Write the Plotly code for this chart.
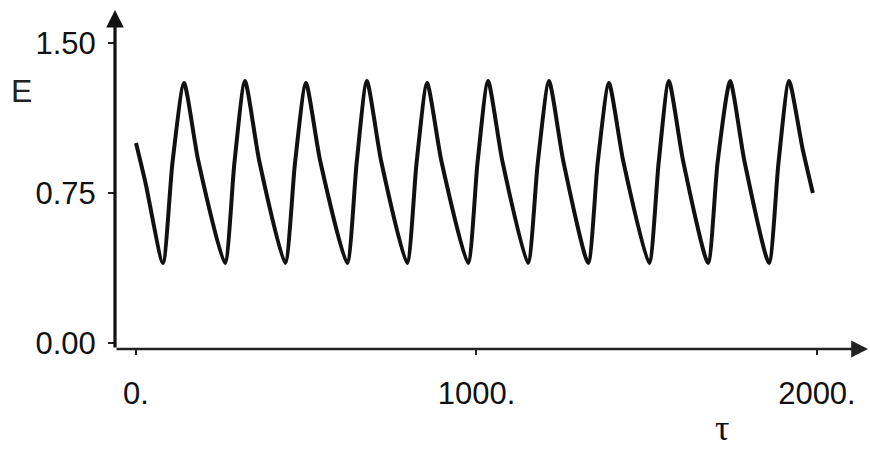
import plotly.graph_objects as go

# ---- data ----
tau = [0, 28, 79,
       107, 141, 183, 261,
       289, 320, 362, 438,
       467, 499, 541, 620,
       648, 678, 720, 796,
       824, 855, 897, 975,
       1003, 1034, 1076, 1151,
       1180, 1213, 1255, 1328,
       1356, 1389, 1431, 1507,
       1535, 1565, 1607, 1680,
       1708, 1745, 1787, 1859,
       1887, 1918, 1958, 1988]
energy = [1.00, 0.80, 0.40,
          0.90, 1.30, 0.91, 0.40,
          0.90, 1.31, 0.91, 0.40,
          0.90, 1.30, 0.91, 0.40,
          0.90, 1.31, 0.91, 0.40,
          0.90, 1.30, 0.91, 0.40,
          0.90, 1.31, 0.91, 0.40,
          0.90, 1.31, 0.91, 0.40,
          0.90, 1.30, 0.91, 0.40,
          0.90, 1.31, 0.91, 0.40,
          0.90, 1.31, 0.91, 0.40,
          0.90, 1.31, 0.97, 0.75]

x_tickvals = [0, 1000, 2000]
x_ticktext = ["0.", "1000.", "2000."]
y_tickvals = [0.0, 0.75, 1.5]
y_ticktext = ["0.00", "0.75", "1.50"]

W, H = 870, 450
L, R, T, B = 115, 2, 10, 101
PW, PH = W - L - R, H - T - B

fig = go.Figure()
fig.add_trace(go.Scatter(
    x=tau, y=energy, mode="lines",
    line=dict(color="#111111", width=4, shape="spline", smoothing=0.6),
    showlegend=False, hoverinfo="skip"))

tickfont = dict(family="Liberation Sans, Arial, sans-serif", size=31, color="#111111")

fig.update_layout(
    width=W, height=H,
    margin=dict(l=L, r=R, t=T, b=B, autoexpand=False),
    paper_bgcolor="white", plot_bgcolor="white",
    xaxis=dict(range=[-61.7, 2150], showgrid=False, zeroline=False, showline=False,
               tickvals=x_tickvals, ticktext=x_ticktext, ticks="outside",
               ticklen=5, tickwidth=2, tickcolor="#222222",
               tickfont=tickfont, ticklabelstandoff=12),
    yaxis=dict(range=[-0.03, 1.665], showgrid=False, zeroline=False, showline=False,
               tickvals=y_tickvals, ticktext=y_ticktext, ticks="outside",
               ticklen=6, tickwidth=2, tickcolor="#222222",
               tickfont=tickfont, ticklabelstandoff=6),
)

# axis lines with arrowheads
fig.add_annotation(xref="paper", yref="paper", x=0, y=1, ax=0, ay=PH,
                   axref="pixel", ayref="pixel", showarrow=True, text="",
                   arrowhead=2, arrowsize=1.1, arrowwidth=3.2, arrowcolor="#111111")
fig.add_annotation(xref="paper", yref="paper", x=1, y=0, ax=-PW, ay=0,
                   axref="pixel", ayref="pixel", showarrow=True, text="",
                   arrowhead=2, arrowsize=1.4, arrowwidth=2.4, arrowcolor="#222222")

# axis titles
fig.add_annotation(xref="paper", yref="paper", x=-L / PW + 21 / PW, y=1 - (91 - T) / PH,
                   text="E", showarrow=False,
                   font=dict(family="Liberation Sans, Arial, sans-serif", size=32, color="#222222"),
                   xanchor="center", yanchor="middle")
fig.add_annotation(xref="paper", yref="paper", x=(722 - L) / PW, y=-(428 - T - PH) / PH,
                   text="τ", showarrow=False,
                   font=dict(family="Liberation Serif, Times New Roman, serif", size=36, color="#111111"),
                   xanchor="center", yanchor="middle")

fig.write_html("out.html")
